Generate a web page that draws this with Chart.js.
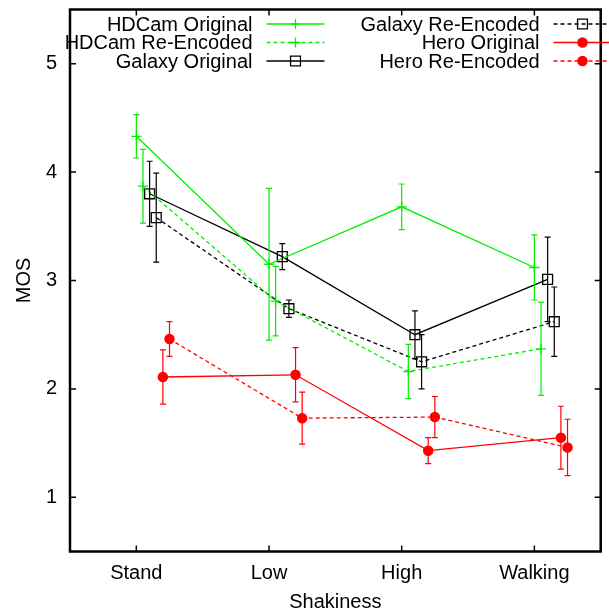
<!DOCTYPE html>
<html>
<head>
<meta charset="utf-8">
<script src="https://cdn.jsdelivr.net/npm/chart.js@4"></script>
<style>
  body { margin: 0; background: #fff; }
  #wrap { width: 609px; height: 614px; position: relative; }
</style>
</head>
<body>
<div id="wrap"><canvas id="grafico"></canvas></div>
<script>
// data
const categories = ['Stand', 'Low', 'High', 'Walking'];
const yTicks = [1, 2, 3, 4, 5];

const hdcamOriginal = [4.33, 3.15, 3.68, 3.12];
const hdcamOriginalErr = [0.20, 0.70, 0.21, 0.30];
const hdcamReEncoded = [3.87, 2.81, 2.16, 2.37];
const hdcamReEncodedErr = [0.34, 0.32, 0.25, 0.43];
const galaxyOriginal = [3.80, 3.22, 2.50, 3.01];
const galaxyOriginalErr = [0.30, 0.12, 0.22, 0.39];
const galaxyReEncoded = [3.58, 2.74, 2.25, 2.62];
const galaxyReEncodedErr = [0.41, 0.08, 0.25, 0.32];
const heroOriginal = [2.11, 2.13, 1.43, 1.55];
const heroOriginalErr = [0.25, 0.25, 0.12, 0.29];
const heroReEncoded = [2.46, 1.73, 1.74, 1.46];
const heroReEncodedErr = [0.16, 0.24, 0.19, 0.26];

const GREEN = '#00f000';
const RED = '#ff0000';
const BLACK = '#000000';
const DASH = [4, 3];
const FONT = '"Liberation Sans", Arial, sans-serif';

function serie(label, values, errors, color, dashed, style, radius, shift) {
    return {
        label: label,
        data: values.map((v, i) => ({ x: i + shift, y: v })),
        errors: errors,
        borderColor: color,
        backgroundColor: color,
        borderWidth: 1.3,
        borderDash: dashed ? DASH : [],
        pointStyle: style,
        pointRadius: radius,
        pointHoverRadius: radius,
        pointBorderColor: color,
        pointBackgroundColor: style === 'circle' ? color : 'rgba(0,0,0,0)',
        pointBorderWidth: 1.3,
        tension: 0
    };
}

const datasets = [
    serie('HDCam Original', hdcamOriginal, hdcamOriginalErr, GREEN, false, 'cross', 5, 0),
    serie('HDCam Re-Encoded', hdcamReEncoded, hdcamReEncodedErr, GREEN, true, 'cross', 5, 0.05),
    serie('Galaxy Original', galaxyOriginal, galaxyOriginalErr, BLACK, false, 'rect', 7, 0.10),
    serie('Galaxy Re-Encoded', galaxyReEncoded, galaxyReEncodedErr, BLACK, true, 'rect', 7, 0.15),
    serie('Hero Original', heroOriginal, heroOriginalErr, RED, false, 'circle', 4.6, 0.20),
    serie('Hero Re-Encoded', heroReEncoded, heroReEncodedErr, RED, true, 'circle', 4.6, 0.25)
];

// vertical error bars with small caps
const errorBars = {
    id: 'errorBars',
    afterDatasetsDraw(chart) {
        const ctx = chart.ctx;
        const xs = chart.scales.x, ys = chart.scales.y;
        ctx.save();
        chart.data.datasets.forEach(ds => {
            ctx.strokeStyle = ds.borderColor;
            ctx.lineWidth = 1.2;
            ctx.setLineDash([]);
            ds.data.forEach((p, i) => {
                const x = xs.getPixelForValue(p.x);
                const y1 = ys.getPixelForValue(p.y + ds.errors[i]);
                const y2 = ys.getPixelForValue(p.y - ds.errors[i]);
                ctx.beginPath();
                ctx.moveTo(x, y1); ctx.lineTo(x, y2);
                ctx.moveTo(x - 3, y1); ctx.lineTo(x + 3, y1);
                ctx.moveTo(x - 3, y2); ctx.lineTo(x + 3, y2);
                ctx.stroke();
            });
        });
        ctx.restore();
    }
};

// gnuplot style frame with inward ticks on all sides
const frame = {
    id: 'frame',
    afterDraw(chart) {
        const ctx = chart.ctx;
        const a = chart.chartArea;
        const xs = chart.scales.x, ys = chart.scales.y;
        ctx.save();
        ctx.strokeStyle = '#000';
        ctx.setLineDash([]);
        ctx.lineWidth = 1.5;
        ctx.beginPath();
        categories.forEach((c, i) => {
            const x = xs.getPixelForValue(i);
            ctx.moveTo(x, a.bottom); ctx.lineTo(x, a.bottom - 6);
            ctx.moveTo(x, a.top); ctx.lineTo(x, a.top + 6);
        });
        yTicks.forEach(v => {
            const y = ys.getPixelForValue(v);
            ctx.moveTo(a.left, y); ctx.lineTo(a.left + 6, y);
            ctx.moveTo(a.right, y); ctx.lineTo(a.right - 6, y);
        });
        ctx.stroke();
        ctx.lineWidth = 2.5;
        ctx.strokeRect(a.left, a.top, a.right - a.left, a.bottom - a.top);
        ctx.restore();
    }
};

// key in two columns, text right aligned, sample to the right
const keyBox = {
    id: 'keyBox',
    afterDraw(chart) {
        const ctx = chart.ctx;
        const textRight = [252.5, 539.5];
        const rowY = [24, 42.5, 61];
        ctx.save();
        ctx.font = '20px ' + FONT;
        ctx.textAlign = 'right';
        ctx.textBaseline = 'middle';
        chart.data.datasets.forEach((ds, i) => {
            const col = Math.floor(i / 3), row = i % 3;
            const tx = textRight[col], y = rowY[row];
            ctx.fillStyle = '#000';
            ctx.fillText(ds.label, tx, y + 1);
            const x0 = tx + 14, x1 = x0 + 58;
            ctx.strokeStyle = ds.borderColor;
            ctx.lineWidth = ds.borderWidth;
            ctx.setLineDash(ds.borderDash);
            ctx.beginPath();
            ctx.moveTo(x0, y); ctx.lineTo(x1, y);
            ctx.stroke();
            ctx.setLineDash([]);
            ctx.fillStyle = ds.pointBackgroundColor;
            ctx.lineWidth = ds.pointBorderWidth;
            Chart.helpers.drawPoint(ctx, {
                pointStyle: ds.pointStyle, radius: ds.pointRadius, rotation: 0, borderWidth: ds.pointBorderWidth
            }, (x0 + x1) / 2, y);
        });
        ctx.restore();
    }
};

new Chart(document.getElementById('grafico').getContext('2d'), {
    type: 'line',
    data: { datasets: datasets },
    plugins: [errorBars, frame, keyBox],
    options: {
        responsive: true,
        maintainAspectRatio: false,
        animation: false,
        events: [],
        layout: { padding: { top: 9.5, right: 7, left: 0, bottom: 0 } },
        plugins: { legend: { display: false }, tooltip: { enabled: false } },
        scales: {
            x: {
                type: 'linear',
                min: -0.5,
                max: 3.5,
                afterBuildTicks: s => { s.ticks = categories.map((c, i) => ({ value: i })); },
                afterFit: s => { s.height = 62.5; s.paddingLeft = 0; s.paddingRight = 0; },
                ticks: {
                    callback: v => categories[v],
                    color: '#000',
                    font: { family: FONT, size: 20 },
                    padding: 10,
                    maxRotation: 0,
                    autoSkip: false
                },
                grid: { display: false, drawTicks: false },
                border: { display: false },
                title: { display: true, text: 'Shakiness', color: '#000', font: { family: FONT, size: 20 }, padding: { top: 0, bottom: 0 } }
            },
            y: {
                min: 0.5,
                max: 5.5,
                afterBuildTicks: s => { s.ticks = yTicks.map(v => ({ value: v })); },
                afterFit: s => { s.width = 70; s.paddingTop = 0; s.paddingBottom = 0; },
                ticks: {
                    color: '#000',
                    font: { family: FONT, size: 20 },
                    padding: 13
                },
                grid: { display: false, drawTicks: false },
                border: { display: false },
                title: { display: true, text: 'MOS', color: '#000', font: { family: FONT, size: 20 }, padding: { top: 12, bottom: 0 } }
            }
        }
    }
});
</script>
</body>
</html>
